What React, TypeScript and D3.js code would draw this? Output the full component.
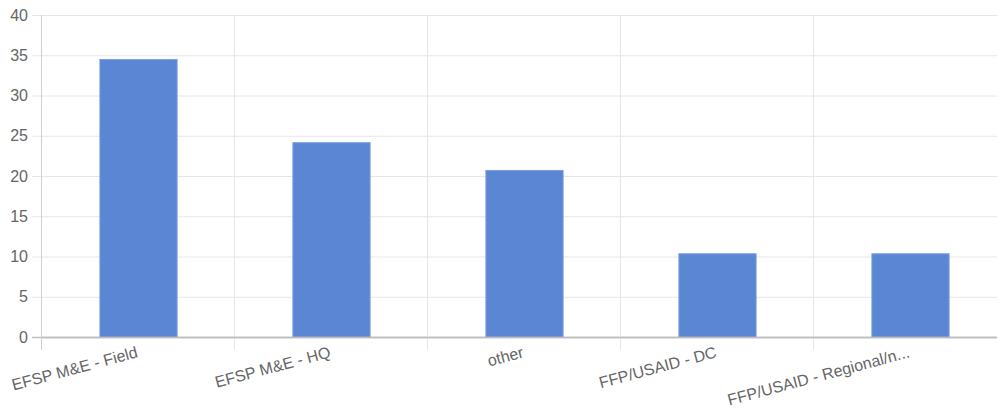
import { useEffect, useRef } from "react";
import * as d3 from "d3";

const categories = [
  "EFSP M&E - Field",
  "EFSP M&E - HQ",
  "other",
  "FFP/USAID - DC",
  "FFP/USAID - Regional/n...",
];
const values = [34.48, 24.14, 20.69, 10.34, 10.34];
const yTicks = [0, 5, 10, 15, 20, 25, 30, 35, 40];

export default function App() {
  const svgRef = useRef<SVGSVGElement>(null);

  useEffect(() => {
    if (!svgRef.current) return;
    const svg = d3.select(svgRef.current);
    svg.selectAll("*").remove();

    const left = 42;
    const right = 1007;
    const visRight = 997;
    const top = 15;
    const bottom = 337;
    const font = "Arial, 'Liberation Sans', sans-serif";

    const x = d3.scaleBand().domain(categories).range([left, right]);
    const y = d3.scaleLinear().domain([0, 40]).range([bottom, top]);

    // horizontal grid
    svg
      .append("g")
      .selectAll("line")
      .data(yTicks)
      .enter()
      .append("line")
      .attr("x1", left - 10)
      .attr("x2", visRight)
      .attr("y1", (d) => y(d) + 0.5)
      .attr("y2", (d) => y(d) + 0.5)
      .attr("stroke", (d) => (d === 0 ? "#bdbdbd" : "#e6e6e6"))
      .attr("stroke-width", (d) => (d === 0 ? 1.5 : 1));

    // vertical grid (category boundaries)
    svg
      .append("g")
      .selectAll("line")
      .data(categories)
      .enter()
      .append("line")
      .attr("x1", (d) => x(d)! - 0.5)
      .attr("x2", (d) => x(d)! - 0.5)
      .attr("y1", top)
      .attr("y2", bottom + 13)
      .attr("stroke", (_d, i) => (i === 0 ? "#d0d0d0" : "#e6e6e6"))
      .attr("stroke-width", 1);

    // bars
    const bw = x.bandwidth() * 0.4;
    svg
      .append("g")
      .selectAll("rect")
      .data(values)
      .enter()
      .append("rect")
      .attr("x", (_d, i) => x(categories[i])! + x.bandwidth() / 2 - bw / 2)
      .attr("y", (d) => y(d))
      .attr("width", bw)
      .attr("height", (d) => bottom - y(d))
      .attr("fill", "#5a86d3")
      .attr("stroke", "#7b9fe0")
      .attr("stroke-width", 1);

    // redraw baseline above bars
    svg
      .append("line")
      .attr("x1", left)
      .attr("x2", visRight)
      .attr("y1", y(0) + 0.5)
      .attr("y2", y(0) + 0.5)
      .attr("stroke", "#bdbdbd")
      .attr("stroke-width", 1.5);

    // y labels
    svg
      .append("g")
      .selectAll("text")
      .data(yTicks)
      .enter()
      .append("text")
      .attr("x", 28)
      .attr("y", (d) => y(d))
      .attr("dy", "0.35em")
      .attr("text-anchor", "end")
      .attr("font-family", font)
      .attr("font-size", 16)
      .attr("fill", "#666")
      .text((d) => d);

    // x labels, rotated
    svg
      .append("g")
      .selectAll("text")
      .data(categories)
      .enter()
      .append("text")
      .attr(
        "transform",
        (d) => `translate(${x(d)! + x.bandwidth() / 2},${bottom + 20}) rotate(-15)`
      )
      .attr("text-anchor", "end")
      .attr("font-family", font)
      .attr("font-size", 16)
      .attr("fill", "#666")
      .text((d) => d);
  }, []);

  return (
    <svg
      ref={svgRef}
      width={998}
      height={409}
      style={{ position: "absolute", left: 0, top: 0, display: "block" }}
    />
  );
}
